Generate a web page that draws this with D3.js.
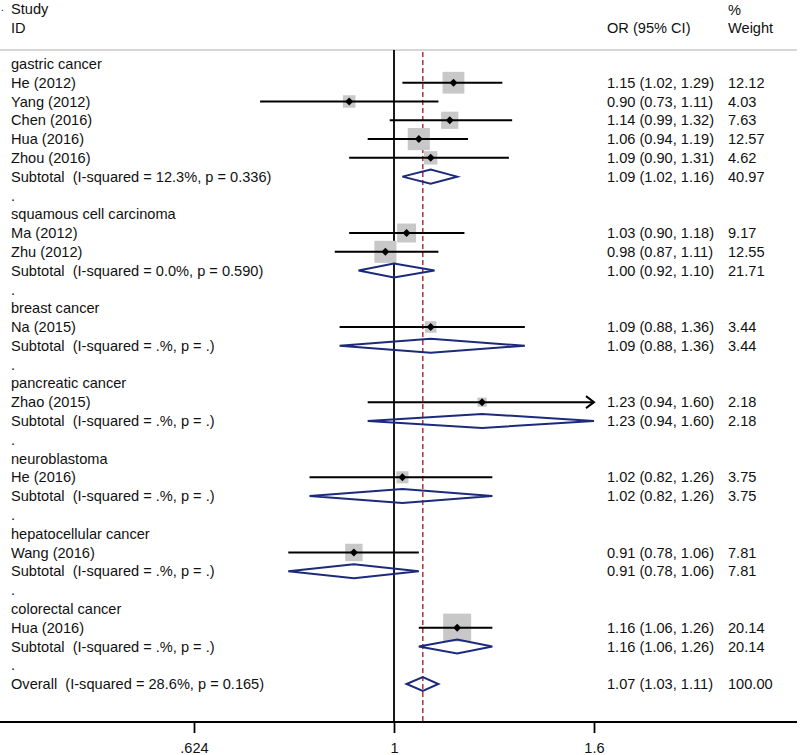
<!DOCTYPE html>
<html>
<head>
<meta charset="utf-8">
<script src="https://cdn.jsdelivr.net/npm/d3@7"></script>
<style>
  html, body { margin: 0; padding: 0; background: #fff; }
  svg { display: block; }
  text { font-family: "Liberation Sans", Arial, sans-serif; font-size: 14.6px; fill: #111; white-space: pre; }
</style>
</head>
<body>
<svg id="chart" width="800" height="755"></svg>
<script>
// ---- data ----
const groups = ["gastric cancer", "squamous cell carcinoma", "breast cancer", "pancreatic cancer",
                "neuroblastoma", "hepatocellular cancer", "colorectal cancer"];
const studyNames  = ["He (2012)", "Yang (2012)", "Chen (2016)", "Hua (2016)", "Zhou (2016)",
                     "Ma (2012)", "Zhu (2012)", "Na (2015)", "Zhao (2015)", "He (2016)", "Wang (2016)", "Hua (2016)"];
const studyGroup  = [0, 0, 0, 0, 0, 1, 1, 2, 3, 4, 5, 6];
const studyOR     = [1.15, 0.90, 1.14, 1.06, 1.09, 1.03, 0.98, 1.09, 1.23, 1.02, 0.91, 1.16];
const studyLo     = [1.02, 0.73, 0.99, 0.94, 0.90, 0.90, 0.87, 0.88, 0.94, 0.82, 0.78, 1.06];
const studyHi     = [1.29, 1.11, 1.32, 1.19, 1.31, 1.18, 1.11, 1.36, 1.60, 1.26, 1.06, 1.26];
const studyWeight = [12.12, 4.03, 7.63, 12.57, 4.62, 9.17, 12.55, 3.44, 2.18, 3.75, 7.81, 20.14];
const subI2     = ["12.3%", "0.0%", ".%", ".%", ".%", ".%", ".%"];
const subP      = ["0.336", "0.590", ".", ".", ".", ".", "."];
const subOR     = [1.09, 1.00, 1.09, 1.23, 1.02, 0.91, 1.16];
const subLo     = [1.02, 0.92, 0.88, 0.94, 0.82, 0.78, 1.06];
const subHi     = [1.16, 1.10, 1.36, 1.60, 1.26, 1.06, 1.26];
const subWeight = [40.97, 21.71, 3.44, 2.18, 3.75, 7.81, 20.14];
const overallI2 = "28.6%", overallP = "0.165";
const overallOR = 1.07, overallLo = 1.03, overallHi = 1.11, overallWeight = 100.00;
const tickValues = [0.624, 1, 1.6];
const tickLabels = [".624", "1", "1.6"];

// ---- build rows ----
const rows = [];
groups.forEach((g, gi) => {
  rows.push({type: "group", label: g});
  studyNames.forEach((n, i) => {
    if (studyGroup[i] === gi) rows.push({type: "study", label: n, or: studyOR[i], lo: studyLo[i], hi: studyHi[i], w: studyWeight[i]});
  });
  rows.push({type: "sub", label: `Subtotal  (I-squared = ${subI2[gi]}, p = ${subP[gi]})`,
             or: subOR[gi], lo: subLo[gi], hi: subHi[gi], w: subWeight[gi]});
  rows.push({type: "blank", label: "."});
});
rows.push({type: "sub", label: `Overall  (I-squared = ${overallI2}, p = ${overallP})`,
           or: overallOR, lo: overallLo, hi: overallHi, w: overallWeight});

const fmt2 = d3.format(".2f");

// ---- scales ----
const xMin = 1 / 1.6, xMax = 1.6;
const x = d3.scaleLog().domain([xMin, xMax]).range([194, 594]).clamp(true);
const y = d3.scaleLinear().domain([0, rows.length - 1]).range([63.9, 684]);

const svg = d3.select("#chart");
const plotTop = 50, axisY = 722;

// header
svg.append("text").attr("x", 1).attr("y", 10.5).style("font-size", "10px").text(".");
svg.append("text").attr("x", 11).attr("y", 8.5).attr("dy", "0.35em").text("Study");
svg.append("text").attr("x", 11).attr("y", 28).attr("dy", "0.35em").text("ID");
svg.append("text").attr("x", 607).attr("y", 28).attr("dy", "0.35em").text("OR (95% CI)");
svg.append("text").attr("x", 728).attr("y", 9.5).attr("dy", "0.35em").text("%");
svg.append("text").attr("x", 728).attr("y", 28).attr("dy", "0.35em").text("Weight");
svg.append("line").attr("x1", 0).attr("x2", 797).attr("y1", plotTop).attr("y2", plotTop)
  .attr("stroke", "#c8c8c8").attr("stroke-width", 1.5);

// reference lines
svg.append("line").attr("x1", x(1)).attr("x2", x(1)).attr("y1", plotTop).attr("y2", axisY)
  .attr("stroke", "#000").attr("stroke-width", 1.8);
svg.append("line").attr("x1", x(overallOR)).attr("x2", x(overallOR)).attr("y1", plotTop + 2).attr("y2", axisY)
  .attr("stroke", "#b2323c").attr("stroke-width", 1.5).attr("stroke-dasharray", "5,3");

// row labels & text columns
const rg = svg.selectAll("g.row").data(rows).join("g").attr("class", "row")
  .attr("transform", (d, i) => `translate(0,${y(i)})`);
rg.append("text").attr("x", 11).attr("dy", "0.35em").text(d => d.label);
rg.filter(d => d.type === "study" || d.type === "sub").append("text")
  .attr("x", 607).attr("dy", "0.35em")
  .text(d => `${fmt2(d.or)} (${fmt2(d.lo)}, ${fmt2(d.hi)})`);
rg.filter(d => d.type === "study" || d.type === "sub").append("text")
  .attr("x", 728).attr("dy", "0.35em").text(d => fmt2(d.w));

// studies: weight boxes, CI lines, point markers
const st = rg.filter(d => d.type === "study");
st.append("rect")
  .attr("x", d => x(d.or) - 3.12 * Math.sqrt(d.w))
  .attr("y", d => -3.12 * Math.sqrt(d.w))
  .attr("width", d => 6.24 * Math.sqrt(d.w))
  .attr("height", d => 6.24 * Math.sqrt(d.w))
  .attr("fill", "#c8c8c8");
st.append("line").attr("x1", d => x(d.lo)).attr("x2", d => x(d.hi)).attr("y1", 0).attr("y2", 0)
  .attr("stroke", "#000").attr("stroke-width", 2);
st.filter(d => d.hi >= xMax).append("path")
  .attr("d", d => `M${x(d.hi) - 8},-6 L${x(d.hi)},0 L${x(d.hi) - 8},6`)
  .attr("fill", "none").attr("stroke", "#000").attr("stroke-width", 2);
st.append("path").attr("transform", d => `translate(${x(d.or)},0)`)
  .attr("d", "M0,-4 L4,0 L0,4 L-4,0Z").attr("fill", "#000");

// subtotal / overall diamonds
rg.filter(d => d.type === "sub").append("path")
  .attr("d", d => `M${x(d.lo)},0 L${x(d.or)},-7 L${x(d.hi)},0 L${x(d.or)},7Z`)
  .attr("fill", "none").attr("stroke", "#1c2a7c").attr("stroke-width", 2);

// axis
svg.append("line").attr("x1", 0).attr("x2", 797).attr("y1", axisY).attr("y2", axisY)
  .attr("stroke", "#000").attr("stroke-width", 1.8);
const axis = d3.axisBottom(x).tickValues(tickValues)
  .tickFormat((d, i) => tickLabels[i]).tickSize(11).tickPadding(10);
const ag = svg.append("g").attr("transform", `translate(0,${axisY})`).call(axis);
ag.select(".domain").remove();
ag.selectAll(".tick line").attr("stroke", "#000").attr("stroke-width", 1.8);
ag.selectAll(".tick text").attr("font-size", null).attr("font-family", null).style("fill", "#111");
</script>
</body>
</html>
